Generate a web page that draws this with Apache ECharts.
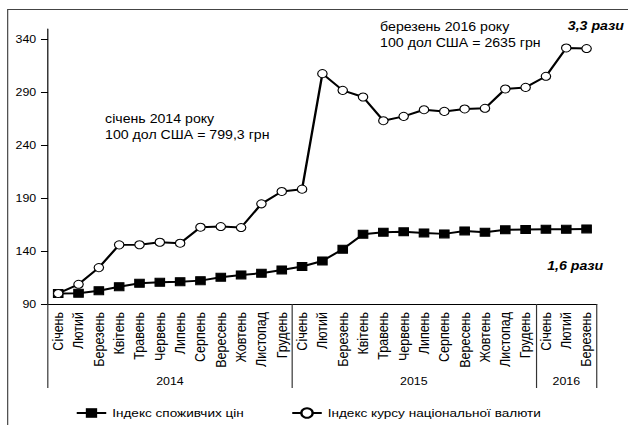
<!DOCTYPE html>
<html>
<head>
<meta charset="utf-8">
<script src="https://cdn.jsdelivr.net/npm/echarts@6/dist/echarts.min.js"></script>
<style>
  html, body { margin: 0; padding: 0; background: #fff; overflow: hidden; }
  /* оригінал розтягнутий по горизонталі, тому малюємо вужче і розтягуємо */
  #chart { width: 532px; height: 425px; transform: scaleX(1.1805); transform-origin: 0 0; }
</style>
</head>
<body>
<div id="chart"></div>
<script>
// місяці по осі X
const months = [
  'Січень', 'Лютий', 'Березень', 'Квітень', 'Травень', 'Червень',
  'Липень', 'Серпень', 'Вересень', 'Жовтень', 'Листопад', 'Грудень',
  'Січень', 'Лютий', 'Березень', 'Квітень', 'Травень', 'Червень',
  'Липень', 'Серпень', 'Вересень', 'Жовтень', 'Листопад', 'Грудень',
  'Січень', 'Лютий', 'Березень'
]
const years = ['2014', '2015', '2016']
const yearBounds = [0, 12, 24, 27]
const yearMiddles = [6, 18, 25.5]
const yTicks = [90, 140, 190, 240, 290, 340]

const cpi = [
  100, 100.2, 102.6, 106.4, 109.6, 110.5, 111.1, 112.1, 115.3, 117.5, 119.1, 122.2,
  125.5, 130.7, 141.8, 156, 157.9, 158.2, 157.2, 156.3, 159.1, 157.9, 160.1, 160.4,
  160.7, 160.6, 161
]
const currency = [
  100, 108.6, 124.4, 145.9, 146, 148.4, 147.5, 162.6, 163.2, 162.3, 184.7, 196.4,
  198.6, 307.8, 292, 285.7, 263.3, 267.4, 273.7, 272.1, 274.4, 275, 293.3, 294.8,
  305.3, 332.1, 331.5
]

const font = 'Liberation Sans, Arial, sans-serif'
const chart = echarts.init(document.getElementById('chart'), null, { renderer: 'svg' })

const option = {
  backgroundColor: '#fff',
  animation: false,
  textStyle: { fontFamily: font, color: '#000' },
  grid: { left: 40.7, right: 26.5, top: 29, bottom: 121 },
  legend: {
    left: 59,
    top: 402,
    itemWidth: 25,
    itemHeight: 12,
    itemGap: 40,
    textStyle: { fontSize: 11.5, color: '#000', fontFamily: font },
    data: ['Індекс споживчих цін', 'Індекс курсу національної валюти']
  },
  xAxis: [
    {
      type: 'category',
      data: months,
      boundaryGap: true,
      axisLine: { lineStyle: { color: '#000', width: 1 } },
      axisTick: { length: 60, lineStyle: { color: '#333' } },
      axisLabel: {
        interval: 0, rotate: 90, margin: 8,
        fontSize: 12.5, color: '#000', fontFamily: font
      },
      splitLine: { show: false }
    },
    {
      type: 'value',
      min: 0,
      max: 27,
      position: 'bottom',
      axisLine: { show: false },
      axisTick: { show: true, length: 84, customValues: yearBounds, lineStyle: { color: '#333' } },
      axisLabel: {
        customValues: yearMiddles,
        margin: 72,
        fontSize: 10.5, color: '#000', fontFamily: font,
        formatter: v => years[yearMiddles.indexOf(v)]
      },
      splitLine: { show: false }
    },
    {
      type: 'category',
      data: months,
      boundaryGap: true,
      axisLine: { show: false },
      axisTick: { inside: true, length: 4, lineStyle: { color: '#000' } },
      axisLabel: { show: false },
      splitLine: { show: false }
    }
  ],
  yAxis: {
    type: 'value',
    min: 90,
    max: 350,
    axisLine: { show: true, lineStyle: { color: '#000' } },
    axisTick: { show: true, length: 6, customValues: yTicks, lineStyle: { color: '#000' } },
    axisLabel: {
      customValues: yTicks, margin: 10,
      fontSize: 10.5, color: '#000', fontFamily: font
    },
    splitLine: { show: false }
  },
  graphic: [
    {
      type: 'rect', silent: true, z: -1,
      shape: { x: 6.5, y: 9.5, width: 560, height: 440 },
      style: { fill: 'none', stroke: '#444', lineWidth: 1 }
    },
    {
      type: 'text', left: 89, top: 111,
      style: { text: 'січень 2014 року\n100 дол США = 799,3 грн', font: '12px ' + font, lineHeight: 16, fill: '#000' }
    },
    {
      type: 'text', left: 322, top: 19,
      style: { text: 'березень 2016 року\n100 дол США = 2635 грн', font: '12px ' + font, lineHeight: 16, fill: '#000' }
    },
    {
      type: 'text', left: 481, top: 20,
      style: { text: '3,3 рази', font: 'italic bold 12px ' + font, fill: '#000' }
    },
    {
      type: 'text', left: 463.5, top: 260,
      style: { text: '1,6 рази', font: 'italic bold 12px ' + font, fill: '#000' }
    }
  ],
  series: [
    {
      name: 'Індекс споживчих цін',
      type: 'line',
      data: cpi,
      symbol: 'rect',
      symbolSize: 8,
      lineStyle: { color: '#000', width: 2 },
      itemStyle: { color: '#000', borderColor: '#000' }
    },
    {
      name: 'Індекс курсу національної валюти',
      type: 'line',
      data: currency,
      symbol: 'circle',
      symbolSize: 8,
      lineStyle: { color: '#000', width: 2 },
      itemStyle: { color: '#fff', borderColor: '#000', borderWidth: 1 }
    }
  ]
}

chart.setOption(option)
</script>
</body>
</html>
